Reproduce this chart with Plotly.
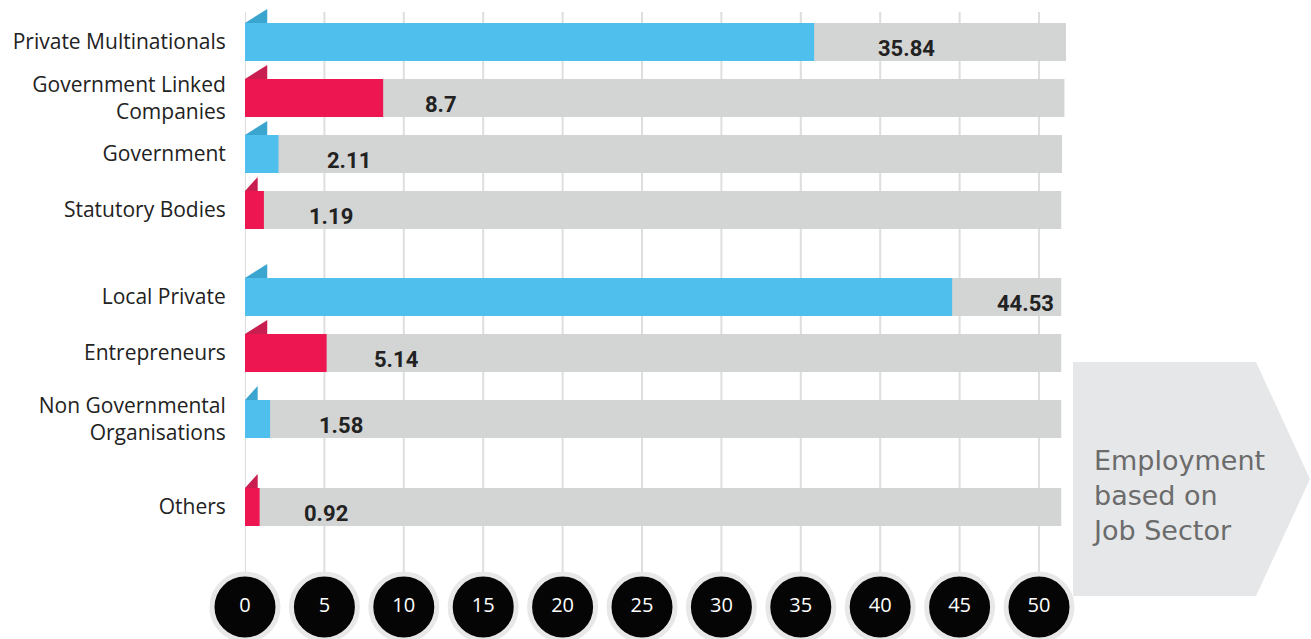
import plotly.graph_objects as go

# ---------------- data ----------------
categories = ["Private Multinationals", "Government Linked<br>Companies", "Government",
              "Statutory Bodies", "Local Private", "Entrepreneurs",
              "Non Governmental<br>Organisations", "Others"]
values = [35.84, 8.7, 2.11, 1.19, 44.53, 5.14, 1.58, 0.92]
value_labels = ["35.84", "8.7", "2.11", "1.19", "44.53", "5.14", "1.58", "0.92"]
background_max = [51.7, 51.6, 51.45, 51.4, 51.4, 51.4, 51.4, 51.4]
tick_values = [0, 5, 10, 15, 20, 25, 30, 35, 40, 45, 50]
tick_labels = ["0", "5", "10", "15", "20", "25", "30", "35", "40", "45", "50"]
box_title = "Employment<br>based on<br>Job Sector"

# ---------------- layout constants ----------------
W, H = 1311, 639
LEFT = 245                 # page pixel of x = 0
PX_PER_UNIT = 15.88
row_y = [42, 98, 154, 210, 297, 353, 419, 507]   # row centres (pixel-like y units)
BAR_W = 38
CIRCLE_Y = 607
label_shift = [62, 40, 46, 43, 43, 45, 47, 42]

BLUE, RED = "#4fbfee", "#ee1651"
BLUE_D, RED_D = "#3aa6cf", "#c81e50"
GRAY = "#d3d4d4"
colors = [BLUE if i % 2 == 0 else RED for i in range(len(values))]
flag_colors = [BLUE_D if i % 2 == 0 else RED_D for i in range(len(values))]

x_max = (W - LEFT) / PX_PER_UNIT


def px2x(px):
    return (px - LEFT) / PX_PER_UNIT


fig = go.Figure()

# background bars
fig.add_trace(go.Bar(y=row_y, x=background_max, orientation="h", width=BAR_W,
                     marker=dict(color=GRAY, line=dict(width=0)),
                     hoverinfo="skip", showlegend=False))
# value bars
fig.add_trace(go.Bar(y=row_y, x=values, orientation="h", width=BAR_W,
                     marker=dict(color=colors, line=dict(width=0)),
                     hovertext=[c.replace("<br>", " ") for c in categories],
                     showlegend=False))

# tick circles
fig.add_trace(go.Scatter(
    x=tick_values, y=[CIRCLE_Y] * len(tick_values), mode="markers+text",
    text=tick_labels, textposition="middle center",
    textfont=dict(family="Open Sans", size=20, color="white"),
    marker=dict(size=66, color="#050505", line=dict(color="#e8e8e8", width=5)),
    cliponaxis=False, hoverinfo="skip", showlegend=False))

shapes = []
# vertical grid lines
for t in tick_values:
    shapes.append(dict(type="line", xref="x", yref="y", x0=t, x1=t, y0=12, y1=575,
                       line=dict(color="#dedede", width=2), layer="below"))

# flags on top-left of each bar
for v, yc, fc in zip(values, row_y, flag_colors):
    fw = 1.4 if v >= 2 else 0.8
    top = yc - BAR_W / 2
    shapes.append(dict(type="path", xref="x", yref="y",
                       path=f"M 0,{top} L {fw},{top} L {fw},{top - 14} Z",
                       fillcolor=fc, line=dict(width=0), layer="above"))

# arrow box on the right
bx0, bx1, bxp = px2x(1073), px2x(1256), px2x(1310)
shapes.append(dict(type="path", xref="x", yref="y",
                   path=f"M {bx0},362 L {bx1},362 L {bxp},479 L {bx1},596 L {bx0},596 Z",
                   fillcolor="#e6e7e8", line=dict(width=0), layer="below"))

annotations = []
for v, lab, yc, sh in zip(values, value_labels, row_y, label_shift):
    annotations.append(dict(x=v, y=yc + 6, xref="x", yref="y", text=f"<b>{lab}</b>",
                            showarrow=False, xanchor="left", yanchor="middle", xshift=sh,
                            font=dict(family="Roboto", size=22, color="#222222")))

annotations.append(dict(x=px2x(1090), y=495, xref="x", yref="y", text=box_title,
                        showarrow=False, xanchor="left", yanchor="middle", align="left",
                        font=dict(family="DejaVu Sans", size=27, color="#6b6b6b")))

fig.update_layout(
    width=W, height=H,
    margin=dict(l=LEFT, r=0, t=0, b=0),
    paper_bgcolor="white", plot_bgcolor="white",
    barmode="overlay",
    shapes=shapes, annotations=annotations,
    xaxis=dict(range=[0, x_max], showgrid=False, zeroline=False, showticklabels=False,
               fixedrange=True),
    yaxis=dict(range=[H, 0], tickvals=row_y, ticktext=categories, showgrid=False,
               zeroline=False, ticks="outside", ticklen=14, tickcolor="rgba(0,0,0,0)",
               tickfont=dict(family="Open Sans", size=21, color="#222222"),
               fixedrange=True),
    font=dict(family="Open Sans"),
)

fig.write_html("out.html",
               config={"displayModeBar": False},
               post_script="document.body.style.margin='0';"
                           "document.body.style.overflow='hidden';")
